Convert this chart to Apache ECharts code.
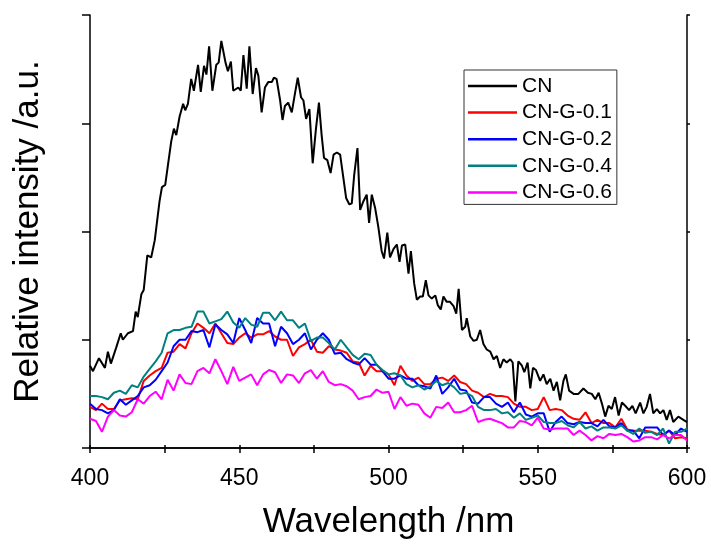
<!DOCTYPE html>
<html>
<head>
<meta charset="utf-8">
<script src="https://cdn.jsdelivr.net/npm/echarts@6/dist/echarts.min.js"></script>
<style>
html,body{margin:0;padding:0;background:#fff;}
#chart{width:711px;height:545px;}
</style>
</head>
<body>
<div id="chart"></div>
<script>
// Data (wavelength in nm, relative intensity in a.u.)
const seriesNames = ['CN', 'CN-G-0.1', 'CN-G-0.2', 'CN-G-0.4', 'CN-G-0.6'];
const xTicks = [400, 450, 500, 550, 600];

const cnX = [400,401,403,405,406,407,408.8,410.3,411,412.7,414.4,415.3,416,417.2,418,419.2,420.5,421.7,423.3,424.1,425.2,426.1,427.2,428.1,428.9,430,431.2,431.9,432.8,433.9,434.8,436.2,437.1,438.2,439,439.9,441,442.3,443.1,444,445.4,446.2,447.2,448,449.7,450.5,451.4,452.5,453.4,454.5,455.6,456.4,457.5,458.6,459.7,460.9,461.6,462.5,463.7,464.5,465.3,466.4,467.6,468.7,469.6,470.7,471.5,472.4,473.5,474.6,475.7,476.7,477.6,478.4,479.5,480.6,481.6,482.7,483.8,484.9,485.8,486.9,487.7,488.5,489.6,490.5,491.6,492.7,493.5,494.4,495.5,496.6,497.7,498.5,499.6,500.5,501.7,502.8,503.7,504.5,505.6,506.7,507.5,508.6,509.5,510.6,511.5,512.5,513.4,514.5,515.7,516.5,517.5,518.4,519.5,520.6,521.8,522.7,523.5,524.6,525.7,526.2,527.4,528.5,529.6,530.7,531.8,532.9,534.1,535.2,536.3,537.4,538.5,539.6,540.8,541.6,542.5,543.5,544.7,545.5,546.6,547.5,548.4,549.4,550.8,551.9,553,554.2,555.3,556.4,557.5,558.6,559.4,560.5,562,563.6,565.3,566.8,568.1,569.3,570.4,571.5,572.6,573.7,574.8,575.9,577.1,578.2,579.3,580.6,581.7,582.8,584.3,585.4,586.5,587.6,588.7,589.9,591,592.1,593.2,594.3,595.4,597.1,598.8,600];
const cnY = [0.76,0.71,0.83,0.74,0.89,0.78,0.93,1.06,1.00,1.06,1.08,1.26,1.21,1.42,1.46,1.78,1.76,1.92,2.28,2.41,2.43,2.61,2.83,2.95,2.89,3.06,3.18,3.12,3.18,3.41,3.30,3.54,3.29,3.53,3.45,3.71,3.30,3.54,3.56,3.76,3.56,3.48,3.57,3.30,3.33,3.30,3.63,3.32,3.71,3.27,3.51,3.44,3.10,3.33,3.38,3.38,3.42,3.41,3.21,3.03,3.16,3.19,3.10,3.28,3.42,3.24,3.21,3.04,3.13,2.63,2.95,3.19,2.89,2.68,2.66,2.54,2.71,2.73,2.71,2.49,2.31,2.25,2.26,2.52,2.77,2.20,2.28,2.34,2.08,2.34,2.22,2.04,1.82,1.75,1.99,1.76,1.84,1.88,1.72,1.87,1.88,1.61,1.82,1.52,1.37,1.40,1.40,1.55,1.41,1.38,1.41,1.32,1.28,1.40,1.35,1.35,1.31,1.24,1.47,1.09,1.12,1.20,1.03,0.99,1.00,1.09,0.96,0.91,0.89,0.82,0.85,0.74,0.82,0.79,0.82,0.79,0.43,0.80,0.76,0.70,0.79,0.55,0.74,0.72,0.62,0.68,0.59,0.64,0.53,0.61,0.44,0.62,0.68,0.53,0.50,0.50,0.55,0.51,0.50,0.45,0.51,0.41,0.29,0.39,0.36,0.47,0.30,0.42,0.39,0.35,0.39,0.32,0.42,0.32,0.38,0.50,0.32,0.36,0.32,0.35,0.26,0.35,0.24,0.29,0.26,0.24];

// Doped samples sampled every 2 nm from 400 to 600 nm
const gridStart = 400, gridStep = 2;
const g01 = [0.38,0.35,0.41,0.36,0.36,0.44,0.45,0.46,0.45,0.62,0.67,0.71,0.74,0.88,0.89,0.96,0.92,1.06,1.15,1.11,1.06,1.15,1.06,0.97,0.96,1.02,1.06,1.02,1.05,1.05,1.08,1.03,1.00,1.00,
  0.85,0.93,0.96,1.00,0.89,0.88,0.94,0.91,0.90,0.88,0.80,0.79,0.67,0.76,0.71,0.71,0.68,0.58,0.76,0.67,0.62,0.65,0.59,0.59,0.64,0.65,0.62,0.67,0.61,0.59,0.53,0.51,0.47,0.50,
  0.48,0.48,0.47,0.41,0.38,0.38,0.35,0.36,0.47,0.35,0.36,0.35,0.30,0.27,0.26,0.33,0.23,0.26,0.23,0.23,0.19,0.27,0.17,0.16,0.16,0.16,0.15,0.13,0.12,0.16,0.09,0.10,0.09];
const g02 = [0.41,0.36,0.35,0.32,0.35,0.45,0.40,0.44,0.48,0.56,0.58,0.63,0.71,0.79,0.94,1.00,1.00,1.08,1.07,1.09,0.93,1.14,1.09,1.05,0.97,1.20,1.09,0.97,1.20,1.15,1.15,0.94,1.12,1.06,
  0.96,1.00,1.06,0.91,1.00,1.06,1.00,0.87,0.88,0.82,0.79,0.77,0.83,0.77,0.77,0.71,0.64,0.64,0.67,0.64,0.64,0.58,0.57,0.55,0.67,0.50,0.56,0.64,0.54,0.53,0.42,0.41,0.47,0.47,
  0.41,0.38,0.42,0.33,0.42,0.31,0.29,0.32,0.32,0.15,0.24,0.29,0.23,0.22,0.24,0.23,0.23,0.20,0.26,0.20,0.19,0.23,0.16,0.16,0.09,0.19,0.19,0.19,0.12,0.16,0.12,0.18,0.15];
const g04 = [0.48,0.48,0.47,0.45,0.51,0.53,0.50,0.58,0.56,0.66,0.73,0.80,0.88,1.06,1.09,1.09,1.11,1.12,1.26,1.26,1.15,1.17,1.19,1.26,1.16,1.11,1.20,1.14,1.12,1.25,1.25,1.18,1.26,1.18,
  1.18,1.11,1.15,0.99,1.02,1.02,0.97,0.91,1.00,0.93,0.86,0.82,0.87,0.86,0.77,0.72,0.68,0.69,0.67,0.59,0.56,0.58,0.54,0.57,0.62,0.58,0.60,0.56,0.50,0.51,0.48,0.38,0.35,0.35,
  0.36,0.32,0.33,0.28,0.32,0.26,0.28,0.30,0.24,0.23,0.23,0.25,0.21,0.19,0.24,0.18,0.20,0.16,0.19,0.19,0.18,0.21,0.16,0.13,0.18,0.14,0.15,0.12,0.18,0.04,0.15,0.15,0.18];
const g06 = [0.27,0.25,0.15,0.29,0.35,0.30,0.29,0.33,0.45,0.41,0.48,0.52,0.45,0.63,0.53,0.68,0.60,0.59,0.71,0.74,0.69,0.82,0.71,0.59,0.75,0.62,0.65,0.68,0.58,0.68,0.72,0.70,0.60,0.68,
  0.67,0.60,0.69,0.72,0.64,0.71,0.61,0.58,0.59,0.57,0.53,0.45,0.47,0.48,0.54,0.51,0.52,0.36,0.47,0.39,0.41,0.40,0.32,0.28,0.38,0.37,0.42,0.33,0.33,0.35,0.39,0.24,0.26,0.27,
  0.25,0.23,0.19,0.19,0.25,0.24,0.21,0.28,0.18,0.17,0.18,0.18,0.18,0.12,0.16,0.12,0.07,0.11,0.09,0.13,0.12,0.13,0.10,0.06,0.07,0.10,0.10,0.08,0.12,0.09,0.12,0.12,0.07];

const colors = ['#000000', '#ff0000', '#0000ff', '#008080', '#ff00ff'];

function pairs(xs, ys) { return ys.map((v, i) => [xs[i], v]); }
function gridPairs(ys) { return ys.map((v, i) => [gridStart + i * gridStep, v]); }

const seriesData = [pairs(cnX, cnY), gridPairs(g01), gridPairs(g02), gridPairs(g04), gridPairs(g06)];

const FONT = 'Liberation Sans, Arial, sans-serif';
const axisLineStyle = { color: '#000', width: 1.5 };

const chart = echarts.init(document.getElementById('chart'), null, { renderer: 'canvas' });
chart.setOption({
  animation: false,
  backgroundColor: '#fff',
  color: colors,
  grid: { left: 90, right: 24, top: 15, bottom: 92, containLabel: false },
  legend: {
    orient: 'vertical',
    left: 464, top: 70,
    padding: [5.5, 5, 1.5, 4],
    itemWidth: 49, itemHeight: 2.5, itemGap: 5.6,
    borderColor: '#333', borderWidth: 1,
    backgroundColor: '#fff',
    textStyle: { fontFamily: FONT, fontSize: 21, color: '#000', padding: [0, 0, 0, 0] },
    data: seriesNames.map(n => ({ name: n, icon: 'rect' })),
    itemStyle: { borderWidth: 0 }
  },
  xAxis: [
    {
      type: 'value', min: 400, max: 600, interval: 50, position: 'bottom',
      name: 'Wavelength /nm', nameLocation: 'middle', nameGap: 57,
      nameTextStyle: { fontFamily: FONT, fontSize: 35, color: '#000' },
      axisLine: { show: true, lineStyle: axisLineStyle },
      axisTick: { show: true, inside: false, length: 5, lineStyle: axisLineStyle },
      minorTick: { show: true, splitNumber: 2, length: 5, lineStyle: axisLineStyle },
      axisLabel: { fontFamily: FONT, fontSize: 23, color: '#000', margin: 19,
        formatter: v => xTicks.indexOf(v) >= 0 ? String(v) : '' },
      splitLine: { show: false }
    },
    {
      type: 'value', min: 400, max: 600, interval: 50, position: 'top',
      axisLine: { show: true, lineStyle: axisLineStyle },
      axisTick: { show: true, inside: false, length: 3, lineStyle: axisLineStyle },
      minorTick: { show: true, splitNumber: 2, length: 3, lineStyle: axisLineStyle },
      axisLabel: { show: false },
      splitLine: { show: false }
    }
  ],
  yAxis: [
    {
      type: 'value', min: 0, max: 4, interval: 1, position: 'left',
      name: 'Relative intensity /a.u.', nameLocation: 'middle', nameGap: 44,
      nameTextStyle: { fontFamily: FONT, fontSize: 35, color: '#000' },
      axisLine: { show: true, lineStyle: axisLineStyle },
      axisTick: { show: true, inside: false, length: 8, lineStyle: axisLineStyle },
      axisLabel: { show: false },
      splitLine: { show: false }
    },
    {
      type: 'value', min: 0, max: 4, interval: 1, position: 'right',
      axisLine: { show: true, lineStyle: axisLineStyle },
      axisTick: { show: true, inside: false, length: 3, lineStyle: axisLineStyle },
      axisLabel: { show: false },
      splitLine: { show: false }
    }
  ],
  series: seriesNames.map((n, i) => ({
    name: n, type: 'line', xAxisIndex: 0, yAxisIndex: 0,
    data: seriesData[i], symbol: 'none', showSymbol: false,
    lineStyle: { color: colors[i], width: 2 },
    itemStyle: { color: colors[i] },
    z: 2 + i
  }))
});
</script>
</body>
</html>
